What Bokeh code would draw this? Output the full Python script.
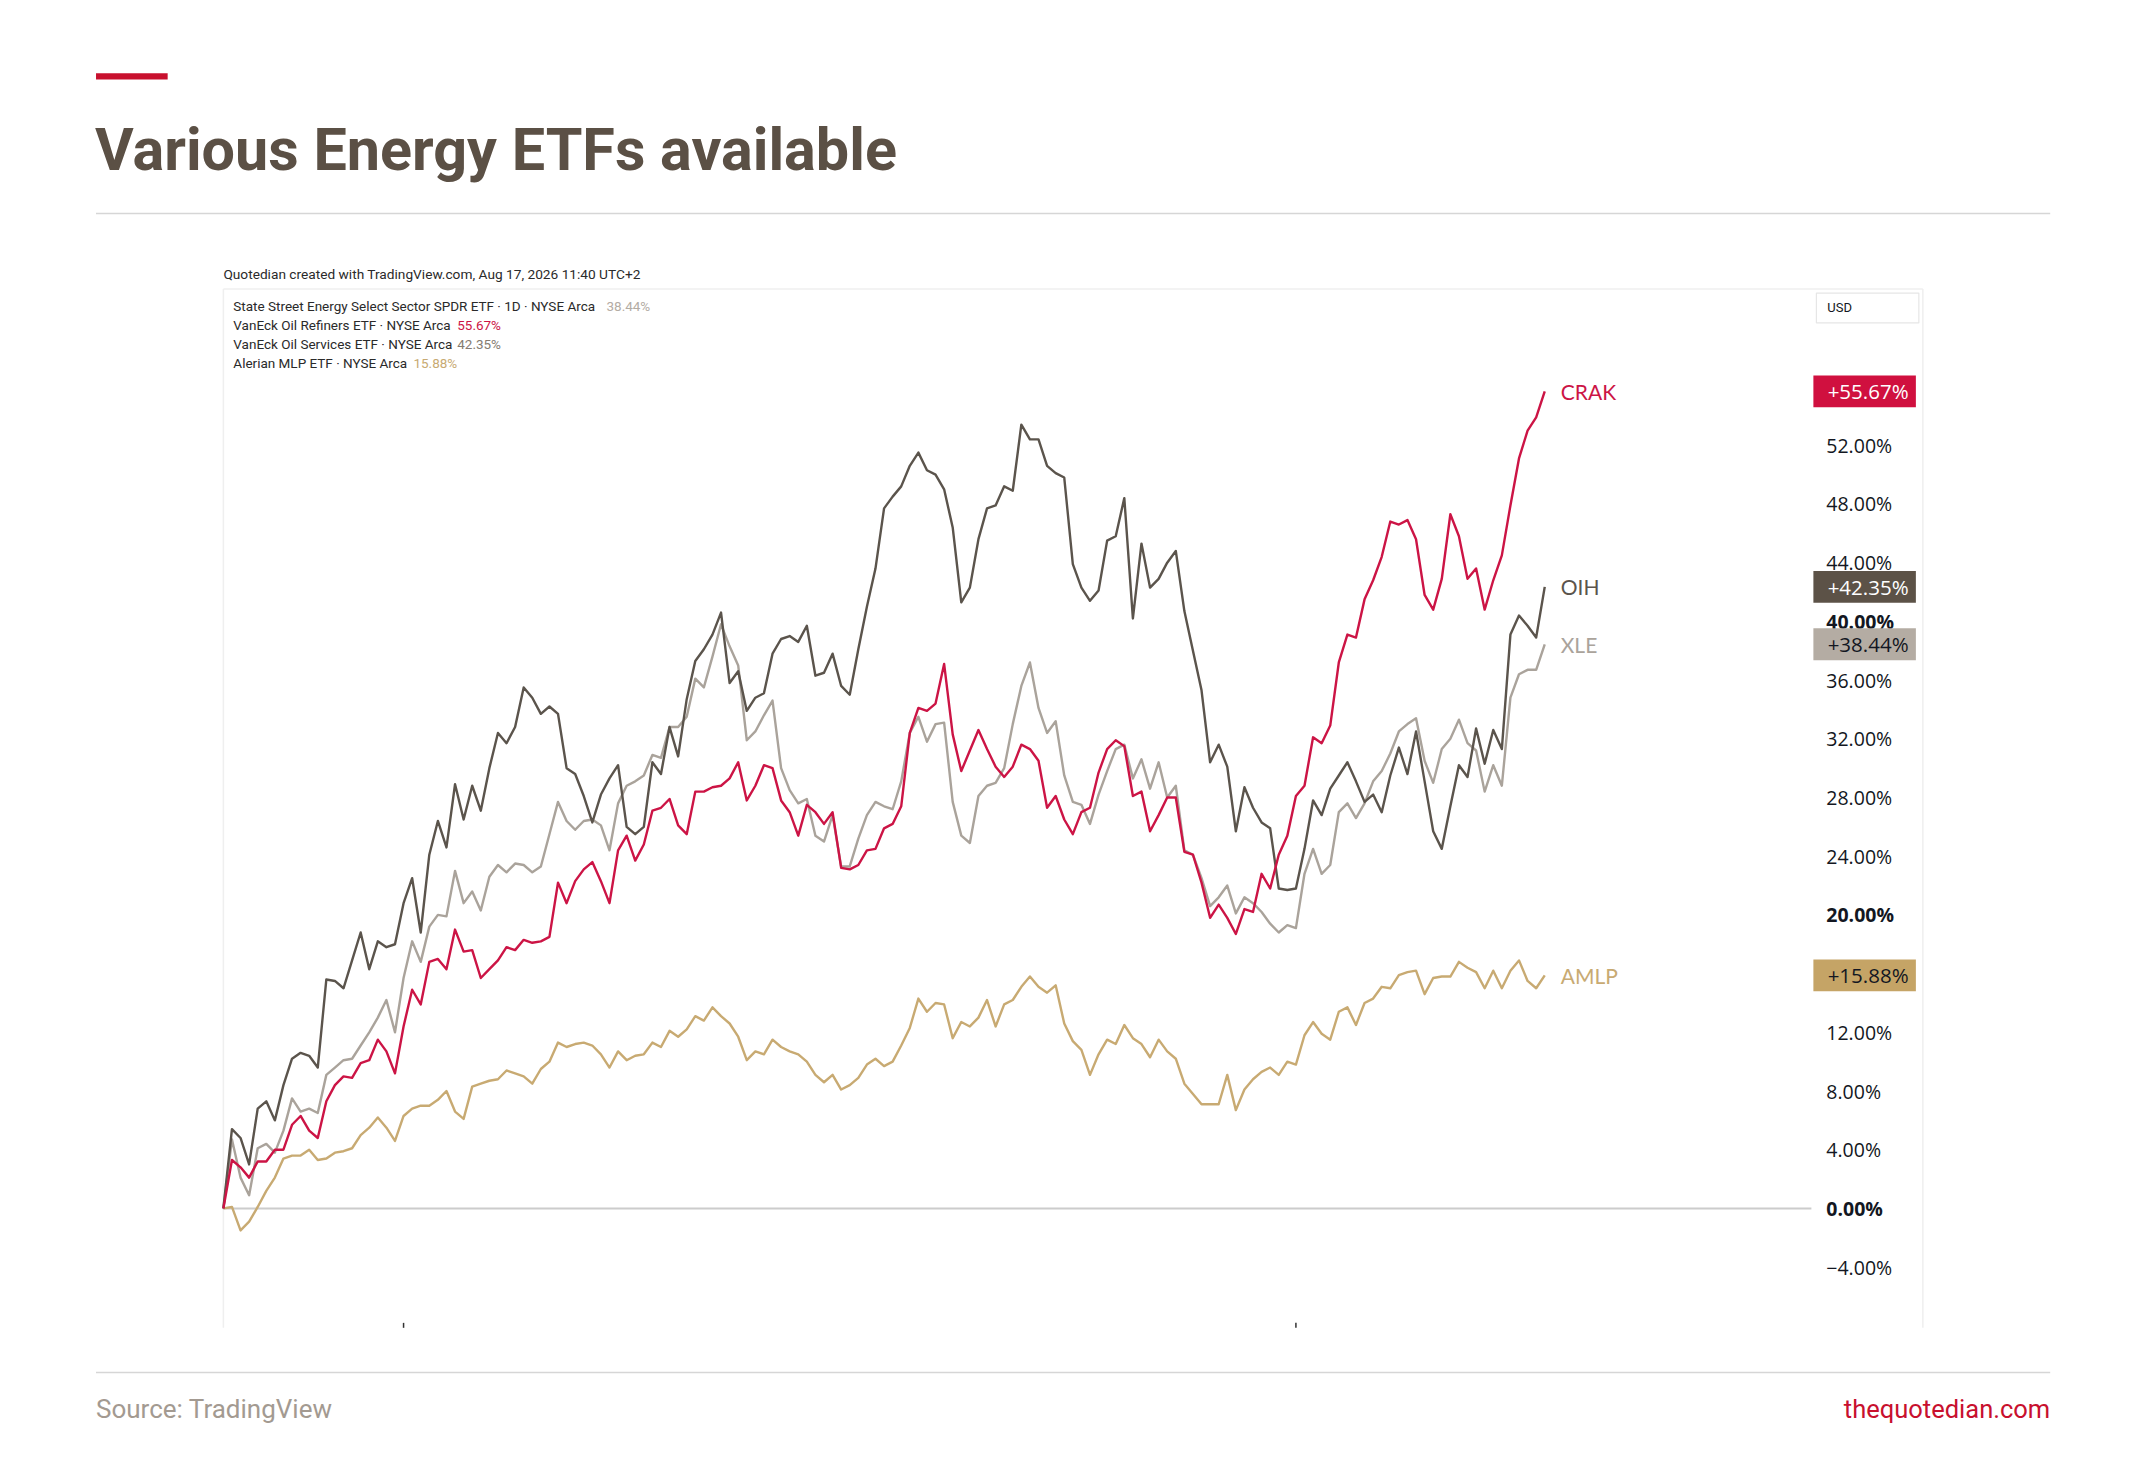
from bokeh.plotting import figure
from bokeh.models import Range1d, ColumnDataSource
from bokeh.core.properties import value
from bokeh.embed import file_html
from bokeh.resources import INLINE

# ---------------- data ----------------
title = "Various Energy ETFs available"
attribution = "Quotedian created with TradingView.com, Aug 17, 2026 11:40 UTC+2"
source_text = "Source: TradingView"
site_text = "thequotedian.com"

tickers = ["CRAK", "OIH", "XLE", "AMLP"]
legend_names = [
    "State Street Energy Select Sector SPDR ETF · 1D · NYSE Arca",
    "VanEck Oil Refiners ETF · NYSE Arca",
    "VanEck Oil Services ETF · NYSE Arca",
    "Alerian MLP ETF · NYSE Arca",
]
legend_values = ["38.44%", "55.67%", "42.35%", "15.88%"]
legend_tickers = ["XLE", "CRAK", "OIH", "AMLP"]
final_labels = ["+55.67%", "+42.35%", "+38.44%", "+15.88%"]

crak = [0, 3.3, 2.8, 2.1, 3.2, 3.2, 4.0, 4.0, 5.7, 6.3, 5.3, 4.8, 7.3, 8.4, 9.0, 8.9,
        9.9, 10.1, 11.5, 10.7, 9.2, 12.4, 14.9, 13.9, 16.8, 17.0, 16.3, 19.0, 17.5, 17.6,
        15.7, 16.3, 16.9, 17.8, 17.6, 18.3, 18.1, 18.2, 18.5, 22.2, 20.8, 22.3, 23.1, 23.6,
        22.3, 20.8, 24.4, 25.4, 23.7, 24.8, 27.1, 27.3, 27.9, 26.1, 25.5, 28.4, 28.4, 28.7,
        28.8, 29.3, 30.4, 27.8, 28.8, 30.2, 30.0, 27.8, 27.0, 25.4, 27.5, 27.0, 26.2, 27.0,
        23.2, 23.1, 23.4, 24.4, 24.5, 25.9, 26.2, 27.4, 32.4, 34.1, 33.9, 34.4, 37.1, 32.3,
        29.8, 31.2, 32.6, 31.3, 30.1, 29.4, 30.1, 31.6, 31.3, 30.5, 27.3, 28.1, 26.5, 25.5,
        27.0, 27.3, 29.7, 31.3, 31.9, 31.5, 28.1, 28.4, 25.7, 26.8, 28.0, 28.0, 24.3, 24.1,
        22.2, 19.8, 20.7, 19.8, 18.7, 20.4, 20.2, 22.8, 21.8, 24.1, 25.4, 28.1, 28.8, 32.1,
        31.7, 32.9, 37.2, 39.1, 38.9, 41.5, 42.8, 44.4, 46.8, 46.6, 46.9, 45.6, 41.8, 40.8,
        42.9, 47.3, 45.8, 42.9, 43.6, 40.8, 42.8, 44.5, 47.9, 51.1, 53.0, 53.9, 55.67]

oih = [0, 5.4, 4.8, 3.0, 6.8, 7.3, 6.0, 8.4, 10.2, 10.6, 10.4, 9.6, 15.6, 15.5, 15.0, 16.9,
       18.8, 16.3, 18.2, 17.8, 18.0, 20.8, 22.5, 18.8, 24.1, 26.4, 24.6, 28.9, 26.5, 28.8,
       27.1, 30.0, 32.4, 31.7, 32.8, 35.5, 34.8, 33.7, 34.2, 33.7, 30.0, 29.6, 28.1, 26.3,
       28.2, 29.3, 30.2, 26.0, 25.5, 26.0, 30.4, 29.6, 32.8, 30.8, 34.7, 37.3, 38.1, 39.1,
       40.6, 35.8, 36.6, 33.9, 34.8, 35.1, 37.8, 38.8, 39.0, 38.6, 39.7, 36.3, 36.5, 37.8,
       35.6, 35.0, 38.1, 41.0, 43.6, 47.7, 48.5, 49.2, 50.6, 51.5, 50.3, 50.0, 49.0, 46.4,
       41.3, 42.3, 45.6, 47.7, 47.9, 49.2, 48.9, 53.4, 52.4, 52.4, 50.6, 50.1, 49.8, 43.9,
       42.3, 41.4, 42.1, 45.5, 45.8, 48.4, 40.2, 45.3, 42.3, 42.9, 44.0, 44.8, 40.7, 38.0,
       35.3, 30.4, 31.6, 30.1, 25.7, 28.7, 27.3, 26.3, 25.9, 21.8, 21.7, 21.8, 24.5, 27.8,
       26.8, 28.6, 29.5, 30.4, 29.1, 27.7, 28.2, 27.0, 29.5, 31.4, 29.6, 32.5, 29.1, 25.7,
       24.5, 27.4, 30.2, 29.4, 32.7, 30.3, 32.6, 31.3, 39.1, 40.4, 39.7, 38.9, 42.35]

xle = [0, 4.7, 2.1, 0.9, 4.1, 4.4, 3.8, 5.3, 7.5, 6.6, 6.8, 6.5, 9.1, 9.6, 10.1, 10.2,
       11.1, 12.0, 13.0, 14.2, 12.0, 15.7, 18.2, 16.8, 19.2, 20.0, 19.9, 23.0, 20.8, 21.6,
       20.3, 22.6, 23.4, 22.9, 23.5, 23.4, 22.9, 23.3, 25.5, 27.7, 26.4, 25.8, 26.4, 26.5,
       26.1, 24.4, 27.6, 28.8, 29.1, 29.5, 30.9, 30.7, 32.8, 32.8, 33.5, 36.1, 35.5, 37.6,
       39.8, 38.3, 37.0, 31.9, 32.5, 33.6, 34.6, 30.0, 28.5, 27.6, 27.9, 25.4, 25.0, 26.8,
       23.3, 23.3, 25.2, 26.8, 27.7, 27.4, 27.2, 29.1, 32.4, 33.5, 31.8, 33.0, 33.1, 27.7,
       25.4, 24.9, 28.1, 28.8, 29.0, 30.0, 33.0, 35.6, 37.2, 34.1, 32.4, 33.2, 29.5, 27.7,
       27.5, 26.2, 28.2, 29.8, 31.3, 31.6, 29.3, 30.6, 28.6, 30.4, 28.0, 28.8, 24.4, 24.1,
       22.5, 20.6, 21.2, 22.0, 20.1, 21.2, 20.8, 20.2, 19.4, 18.8, 19.3, 19.1, 22.8, 24.5,
       22.8, 23.4, 27.0, 27.6, 26.6, 27.6, 29.1, 29.8, 31.0, 32.5, 33.0, 33.4, 30.5, 29.0,
       31.3, 32.0, 33.3, 31.7, 31.2, 28.4, 30.2, 28.8, 34.8, 36.4, 36.7, 36.7, 38.44]

amlp = [0, 0.1, -1.5, -0.9, 0.1, 1.2, 2.1, 3.4, 3.6, 3.6, 4.0, 3.3, 3.4, 3.8, 3.9, 4.1,
        5.0, 5.5, 6.2, 5.5, 4.6, 6.3, 6.8, 7.0, 7.0, 7.4, 8.0, 6.6, 6.1, 8.3, 8.5, 8.7,
        8.8, 9.4, 9.2, 9.0, 8.5, 9.5, 10.0, 11.3, 11.0, 11.2, 11.3, 11.1, 10.5, 9.6, 10.7,
        10.1, 10.4, 10.5, 11.3, 11.0, 12.1, 11.7, 12.2, 13.1, 12.8, 13.7, 13.1, 12.6, 11.7,
        10.1, 10.7, 10.5, 11.5, 11.0, 10.7, 10.5, 10.0, 9.1, 8.6, 9.1, 8.1, 8.4, 8.9, 9.8,
        10.2, 9.7, 10.0, 11.1, 12.3, 14.3, 13.4, 14.0, 13.9, 11.6, 12.7, 12.4, 13.0, 14.2,
        12.4, 13.9, 14.2, 15.1, 15.8, 15.1, 14.7, 15.2, 12.6, 11.4, 10.8, 9.1, 10.5, 11.5,
        11.2, 12.5, 11.6, 11.2, 10.3, 11.5, 10.7, 10.2, 8.5, 7.8, 7.1, 7.1, 7.1, 9.1, 6.7,
        8.1, 8.8, 9.3, 9.6, 9.1, 10.0, 9.8, 11.8, 12.7, 11.9, 11.5, 13.4, 13.7, 12.5, 14.0,
        14.3, 15.1, 15.0, 15.9, 16.1, 16.2, 14.6, 15.7, 15.8, 15.8, 16.8, 16.4, 16.1, 15.0,
        16.2, 15.0, 16.2, 16.9, 15.5, 15.0, 15.88]

y_ticks = [52, 48, 44, 40, 36, 32, 28, 24, 20, 12, 8, 4, 0, -4]
y_tick_labels = ["52.00%", "48.00%", "44.00%", "40.00%", "36.00%", "32.00%", "28.00%",
                 "24.00%", "20.00%", "12.00%", "8.00%", "4.00%", "0.00%", "\u22124.00%"]
month_ticks = [21, 125]

# ---------------- styles ----------------
C_CRAK, C_OIH, C_XLE, C_AMLP = "#cc1445", "#5b544c", "#aaa39b", "#c8aa72"
series_colors = {"CRAK": C_CRAK, "OIH": C_OIH, "XLE": C_XLE, "AMLP": C_AMLP}
legend_value_colors = {"CRAK": "#cc1445", "OIH": "#857c72", "XLE": "#b3aca4", "AMLP": "#c8aa72"}
box_colors = {"CRAK": "#d0103f", "OIH": "#5c5247", "XLE": "#b4aca3", "AMLP": "#c5a466"}
box_text_colors = {"CRAK": "#ffffff", "OIH": "#ffffff", "XLE": "#131722", "AMLP": "#131722"}
BRAND = "#c8102e"
TITLE_C = "#5b5045"
AXIS_TXT = "#131722"

W, H = 2129, 1442
S = 0.995  # reference pixel -> canvas pixel


def cx(v):
    return v * S


def cy(v):
    return v * S


# data mapping (reference pixels)
X0, X_END = 224, 1552
Y_ZERO, PX_PER_PCT = 1214, 14.75
N = len(crak)
DX = (X_END - X0) / (N - 1) * S
PPP = PX_PER_PCT * S

p = figure(width=W, height=H, output_backend="svg", toolbar_location=None,
           x_axis_type=None, y_axis_type=None, min_border=0,
           x_range=Range1d(0, W), y_range=Range1d(H, 0))
p.outline_line_color = None
p.background_fill_color = "white"
p.border_fill_color = "white"
p.extra_x_ranges = {"idx": Range1d(-cx(X0) / DX, (W - cx(X0)) / DX)}
p.extra_y_ranges = {"pct": Range1d((cy(Y_ZERO) - H) / PPP, cy(Y_ZERO) / PPP)}

F = value("Roboto")
FL = value("Lato")
FO = value("Open Sans")

# header
p.quad(left=[cx(96)], right=[cx(168)], top=[cy(73)], bottom=[cy(79.5)], fill_color=BRAND, line_color=None)
p.text(x=[cx(95)], y=[cy(150)], text=[title], text_font=F, text_font_style="bold",
       text_font_size="59.3px", text_color=TITLE_C, text_baseline="middle", text_align="left")
p.segment(x0=[cx(96)], x1=[cx(2060)], y0=[cy(214)], y1=[cy(214)], line_color="#d6d6d6", line_width=1.5)

# tradingview frame
p.text(x=[cx(224)], y=[cy(275)], text=[attribution], text_font=F, text_font_size="13.7px",
       text_color="#2a2a2a", text_baseline="middle", text_align="left")
p.segment(x0=[cx(224), cx(224), cx(1932)], x1=[cx(1932), cx(224), cx(1932)],
          y0=[cy(290), cy(290), cy(290)], y1=[cy(290), cy(1334), cy(1334)],
          line_color="#efefef", line_width=1.5)

leg_y = [307, 326, 345, 364]
leg_val_x = [609, 459, 459, 415]
p.text(x=[cx(234)] * 4, y=[cy(v) for v in leg_y], text=legend_names, text_font=F,
       text_font_size="13.5px", text_color="#2a2a2a", text_baseline="middle", text_align="left")
p.text(x=[cx(v) for v in leg_val_x], y=[cy(v) for v in leg_y], text=legend_values, text_font=F,
       text_font_size="13.5px", text_color=[legend_value_colors[t] for t in legend_tickers],
       text_baseline="middle", text_align="left")

p.quad(left=[cx(1825)], right=[cx(1928)], top=[cy(294)], bottom=[cy(324)], fill_color="white",
       line_color="#e6e6e6", line_width=1.2)
p.text(x=[cx(1836)], y=[cy(309)], text=["USD"], text_font=F, text_font_size="13px",
       text_color=AXIS_TXT, text_baseline="middle", text_align="left")

# zero line
p.segment(x0=[cx(224)], x1=[cx(1820)], y0=[0], y1=[0], y_range_name="pct",
          line_color="#cccccc", line_width=2)

# month tick marks at bottom of frame
p.segment(x0=month_ticks, x1=month_ticks, y0=[cy(1329)] * 2, y1=[cy(1334)] * 2,
          x_range_name="idx", line_color="#333333", line_width=1.5)

# series
idx = list(range(N))
series = {"CRAK": crak, "OIH": oih, "XLE": xle, "AMLP": amlp}
for t in ["XLE", "AMLP", "OIH", "CRAK"]:
    src = ColumnDataSource(dict(x=idx, y=series[t]))
    p.line("x", "y", source=src, x_range_name="idx", y_range_name="pct",
           line_color=series_colors[t], line_width=2.4, line_join="round")

# end labels
last_vals = [series[t][-1] for t in tickers]
p.text(x=[N - 1] * 4, y=last_vals, text=tickers, x_range_name="idx", y_range_name="pct",
       x_offset=16, text_font=FL, text_font_size="21px",
       text_color=[series_colors[t] for t in tickers], text_baseline="middle", text_align="left")

# y tick labels
bold_ticks = {0, 20, 40}
norm = [i for i, t in enumerate(y_ticks) if t not in bold_ticks]
bold = [i for i, t in enumerate(y_ticks) if t in bold_ticks]
p.text(x=[cx(1835)] * len(norm), y=[y_ticks[i] for i in norm], text=[y_tick_labels[i] for i in norm],
       y_range_name="pct", text_font=FO, text_font_size="19.5px", text_color=AXIS_TXT,
       text_baseline="middle", text_align="left")
p.text(x=[cx(1835)] * len(bold), y=[y_ticks[i] for i in bold], text=[y_tick_labels[i] for i in bold],
       y_range_name="pct", text_font=FO, text_font_size="19.5px", text_font_style="bold",
       text_color=AXIS_TXT, text_baseline="middle", text_align="left")

# value boxes
p.rect(x=[cx(1873.5)] * 4, y=last_vals, width=103 * S, height=32 * S, width_units="screen",
       height_units="screen", y_range_name="pct",
       fill_color=[box_colors[t] for t in tickers], line_color=None)
p.text(x=[cx(1877)] * 4, y=last_vals, text=final_labels, y_range_name="pct", text_font=FO,
       text_font_size="20.5px", text_color=[box_text_colors[t] for t in tickers],
       text_baseline="middle", text_align="center")

# footer
p.segment(x0=[cx(96)], x1=[cx(2060)], y0=[cy(1379)], y1=[cy(1379)], line_color="#d6d6d6", line_width=1.5)
p.text(x=[cx(96)], y=[cy(1416)], text=[source_text], text_font=F, text_font_size="26px",
       text_color="#a39a91", text_baseline="middle", text_align="left")
p.text(x=[cx(2060)], y=[cy(1416)], text=[site_text], text_font=F, text_font_size="25.5px",
       text_color=BRAND, text_baseline="middle", text_align="right")

open("out.html", "w").write(file_html(p, INLINE))
